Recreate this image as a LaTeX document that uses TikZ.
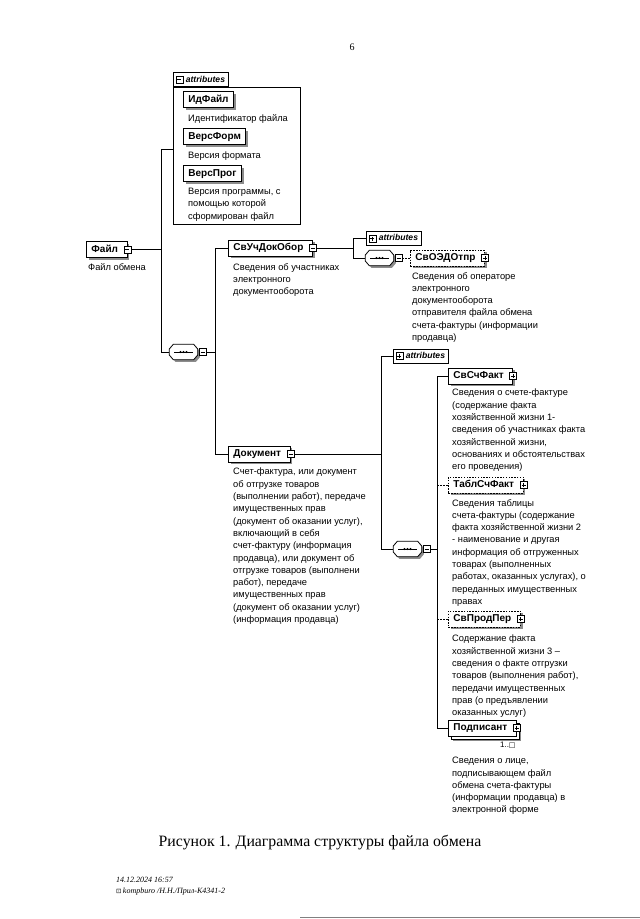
\documentclass[tikz,border=0pt]{standalone}
\usepackage{fontspec}
\setmainfont{Liberation Sans}
\newfontfamily\serifcap{Liberation Serif}
\newfontfamily\symfont{DejaVu Sans}
\usetikzlibrary{shadows,calc}

\tikzset{
  elembase/.style={draw, fill=white, line width=0.9pt,
    font=\bfseries\fontsize{10}{11}\selectfont, inner xsep=5pt, inner ysep=0pt,
    minimum height=16pt, text height=7.2pt, text depth=2pt, anchor=west},
  elem/.style={elembase, drop shadow={shadow xshift=2.2pt, shadow yshift=-2.2pt, fill=black!45, opacity=1}},
  optelem/.style={elem, dash pattern=on 1.5pt off 1.3pt},
  multielem/.style={elembase,
    drop shadow={shadow xshift=5pt, shadow yshift=-5pt, fill=black!45, opacity=1},
    copy shadow={shadow xshift=3pt, shadow yshift=-3pt, draw=black, fill=white}},
  icon/.style={draw, fill=white, line width=0.6pt, minimum size=7pt, inner sep=0pt},
  minusicon/.style={icon, path picture={\draw[line width=0.6pt]
      ([xshift=1.5pt]path picture bounding box.west) -- ([xshift=-1.5pt]path picture bounding box.east);}},
  plusicon/.style={icon, path picture={\draw[line width=0.6pt]
      ([xshift=1.5pt]path picture bounding box.west) -- ([xshift=-1.5pt]path picture bounding box.east)
      ([yshift=-1.5pt]path picture bounding box.north) -- ([yshift=1.5pt]path picture bounding box.south);}},
  desc/.style={anchor=north west, inner sep=0pt, align=left, font=\fontsize{9.3}{12.3}\selectfont},
  tab/.style={draw, fill=white, line width=0.7pt, font=\bfseries\itshape\fontsize{8.6}{9}\selectfont,
    minimum height=14pt, inner sep=0pt, text height=6.2pt, text depth=1.5pt, anchor=west},
  conn/.style={line width=0.8pt},
  optconn/.style={conn, dash pattern=on 1.5pt off 1.5pt},
  seqbox/.style={minimum width=28pt, minimum height=15pt, inner sep=0pt},
}
\newcommand\pad{\hspace*{4pt}}
\newcommand\attrtext{\hspace*{12.5pt}attributes\hspace*{3.5pt}}

% sequence compositor symbol
\newcommand\seqsym[3]{%
  \node[seqbox] (#1) at (#2,#3) {};
  \fill[black!45]
    ([xshift=2.2pt,yshift=0.8pt]#1.west) -- ([xshift=6.2pt,yshift=-2.2pt]#1.north west)
    -- ([xshift=-1.8pt,yshift=-2.2pt]#1.north east) -- ([xshift=2.2pt,yshift=0.8pt]#1.east)
    -- ([xshift=2.2pt,yshift=-5.2pt]#1.east) -- ([xshift=-1.8pt,yshift=-2.2pt]#1.south east)
    -- ([xshift=6.2pt,yshift=-2.2pt]#1.south west) -- ([xshift=2.2pt,yshift=-5.2pt]#1.west) -- cycle;
  \filldraw[fill=white, line width=0.8pt]
    ([yshift=3pt]#1.west) -- ([xshift=4pt]#1.north west) -- ([xshift=-4pt]#1.north east)
    -- ([yshift=3pt]#1.east) -- ([yshift=-3pt]#1.east) -- ([xshift=-4pt]#1.south east)
    -- ([xshift=4pt]#1.south west) -- ([yshift=-3pt]#1.west) -- cycle;
  \draw[line width=0.7pt] ([xshift=5pt]#1.west) -- ([xshift=-5pt]#1.east);
  \fill ([xshift=-3pt]#1.center) circle (1.1pt) (#1.center) circle (1.1pt) ([xshift=3pt]#1.center) circle (1.1pt);
}

\begin{document}
\begin{tikzpicture}[x=1pt, y=-1pt]
\useasboundingbox[fill=white] (0,0) rectangle (640,919);

% page number
\node[font=\serifcap\fontsize{10}{12}\selectfont, inner sep=0pt] (pgnum) at (352,47) {6};

% ---- root
\node[elem] (file) at (86,249.5) {Файл\pad};
\node[minusicon] (fileI) at (file.east) {};
\node[desc] (fileD) at (88,263) {Файл обмена};

% ---- attributes of Файл
\node[draw, line width=0.7pt, minimum width=127pt, minimum height=137pt, inner sep=0pt, anchor=north west] (ab1) at (173,87) {};
\node[tab, anchor=south west] (ab1t) at (ab1.north west) {\attrtext};
\node[minusicon, anchor=west] (ab1i) at ([xshift=2.5pt]ab1t.west) {};
\node[elem] (idf) at (183,99.5) {ИдФайл};
\node[desc] (idfD) at (188,114) {Идентификатор файла};
\node[elem] (vf) at (183,136.5) {ВерсФорм};
\node[desc] (vfD) at (188,152) {Версия формата};
\node[elem] (vp) at (183,173.5) {ВерсПрог};
\node[desc] (vpD) at (188,188) {Версия программы, с\\помощью которой\\сформирован файл};

% ---- sequence 1
\seqsym{seq1}{183.5}{352}
\node[minusicon, anchor=west] (seq1i) at ([xshift=1pt]seq1.east) {};

% ---- СвУчДокОбор
\node[elem] (svuch) at (228,248) {СвУчДокОбор\pad};
\node[minusicon] (svuchI) at (svuch.east) {};
\node[desc] (svuchD) at (233,263) {Сведения об участниках\\электронного\\документооборота};

\node[tab] (ab2) at (366,238.5) {\attrtext};
\node[plusicon, anchor=west] (ab2i) at ([xshift=2.5pt]ab2.west) {};
\seqsym{seq2}{379.5}{258}
\node[minusicon, anchor=west] (seq2i) at ([xshift=1pt]seq2.east) {};
\node[optelem] (svoed) at (410,258) {СвОЭДОтпр\pad};
\node[plusicon] (svoedI) at (svoed.east) {};
\node[desc] (svoedD) at (412,272) {Сведения об операторе\\электронного\\документооборота\\отправителя файла обмена\\счета-фактуры (информации\\продавца)};

% ---- Документ
\node[elem] (doc) at (228,454) {Документ\pad};
\node[minusicon] (docI) at (doc.east) {};
\node[desc] (docD) at (233,468) {Счет-фактура, или документ\\об отгрузке товаров\\(выполнении работ), передаче\\имущественных прав\\(документ об оказании услуг),\\включающий в себя\\счет-фактуру (информация\\продавца), или документ об\\отгрузке товаров (выполнени\\работ), передаче\\имущественных прав\\(документ об оказании услуг)\\(информация продавца)};

\node[tab] (ab3) at (393,356) {\attrtext};
\node[plusicon, anchor=west] (ab3i) at ([xshift=2.5pt]ab3.west) {};
\seqsym{seq3}{407.5}{549}
\node[minusicon, anchor=west] (seq3i) at ([xshift=1pt]seq3.east) {};

\node[elem] (svsf) at (448,376) {СвСчФакт\pad};
\node[plusicon] (svsfI) at (svsf.east) {};
\node[desc] (svsfD) at (452,389) {Сведения о счете-фактуре\\(содержание факта\\хозяйственной жизни 1-\\сведения об участниках факта\\хозяйственной жизни,\\основаниях и обстоятельствах\\его проведения)};

\node[optelem] (tabl) at (448,485) {ТаблСчФакт\pad};
\node[plusicon] (tablI) at (tabl.east) {};
\node[desc] (tablD) at (452,499) {Сведения таблицы\\счета-фактуры (содержание\\факта хозяйственной жизни 2\\- наименование и другая\\информация об отгруженных\\товарах (выполненных\\работах, оказанных услугах), о\\переданных имущественных\\правах};

\node[optelem] (svprod) at (448,619) {СвПродПер\pad};
\node[plusicon] (svprodI) at (svprod.east) {};
\node[desc] (svprodD) at (452,635) {Содержание факта\\хозяйственной жизни 3 –\\сведения о факте отгрузки\\товаров (выполнения работ),\\передачи имущественных\\прав (о предъявлении\\оказанных услуг)};

\node[multielem] (podp) at (448,728) {Подписант\pad};
\node[plusicon] (podpI) at (podp.east) {};
\node[anchor=north east, inner sep=0pt, font=\fontsize{8}{9}\selectfont] (podpOcc) at ([xshift=-1pt,yshift=-5pt]podp.south east) {1..{\symfont\fontsize{7}{8}\selectfont □}};
\node[desc] (podpD) at (452,757) {Сведения о лице,\\подписывающем файл\\обмена счета-фактуры\\(информации продавца) в\\электронной форме};

% ---- connectors
\coordinate (v1a) at (161,149); \coordinate (v1b) at (161,352);
\draw[conn] (fileI.east) -- (fileI.east -| v1a);
\draw[conn] (v1a) -- (v1b);
\draw[conn] (v1a) -- (v1a -| ab1.west);
\draw[conn] (v1b) -- (seq1.west);

\coordinate (v2a) at (215,248); \coordinate (v2b) at (215,454);
\draw[conn] (seq1i.east) -- (seq1i.east -| v2a);
\draw[conn] (v2a) -- (v2b);
\draw[conn] (v2a) -- (svuch.west);
\draw[conn] (v2b) -- (doc.west);

\coordinate (v3a) at (353,238.5); \coordinate (v3b) at (353,258);
\draw[conn] (svuchI.east) -- (svuchI.east -| v3a);
\draw[conn] (v3a) -- (v3b);
\draw[conn] (v3a) -- (ab2.west);
\draw[conn] (v3b) -- (seq2.west);
\draw[optconn] (seq2i.east) -- (svoed.west);

\coordinate (v4a) at (381,356); \coordinate (v4b) at (381,549);
\draw[conn] (docI.east) -- (docI.east -| v4a);
\draw[conn] (v4a) -- (v4b);
\draw[conn] (v4a) -- (ab3.west);
\draw[conn] (v4b) -- (seq3.west);

\coordinate (v5a) at (437,376); \coordinate (v5b) at (437,728);
\draw[conn] (seq3i.east) -- (seq3i.east -| v5a);
\draw[conn] (v5a) -- (v5b);
\draw[conn] (v5a) -- (svsf.west);
\draw[optconn] (tabl.west -| v5a) -- (tabl.west);
\draw[optconn] (svprod.west -| v5a) -- (svprod.west);
\draw[conn] (v5b) -- (podp.west);

% ---- caption and footer
\node[font=\serifcap\fontsize{15.8}{18}\selectfont, inner sep=0pt] (cap) at (320,843) {Рисунок 1. Диаграмма структуры файла обмена};
\node[anchor=north west, inner sep=0pt, align=left, font=\serifcap\itshape\fontsize{8}{10.5}\selectfont] (foot) at (116,877) {14.12.2024 16:57\\{\symfont\upshape\fontsize{6.5}{7}\selectfont ⊡}\,kompburo /Н.Н./Прил-К4341-2};
\draw[black!50, line width=0.6pt] (300,917.5) -- (640,917.5);
\end{tikzpicture}
\end{document}
